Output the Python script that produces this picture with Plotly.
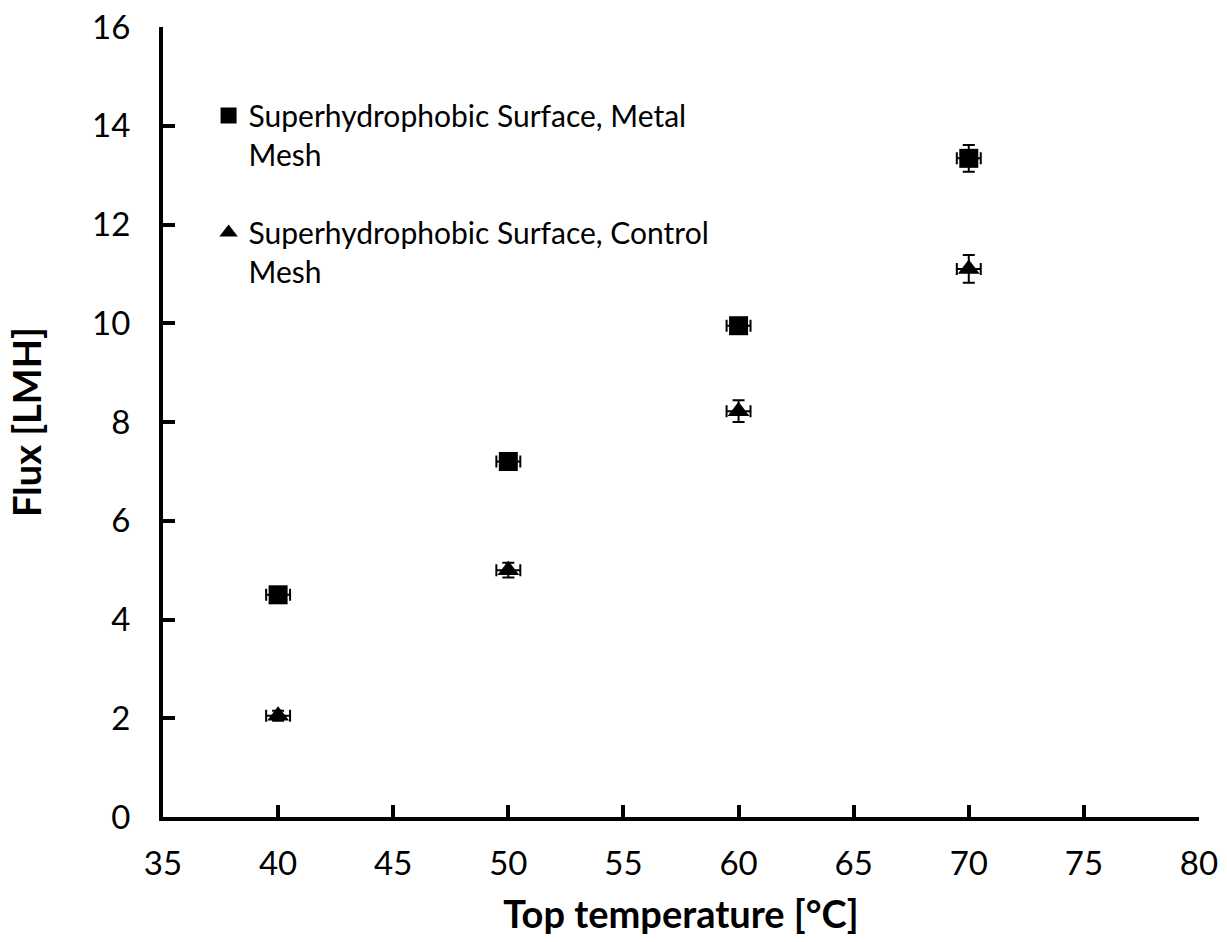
import plotly.graph_objects as go

temps = [40, 50, 60, 70]
metal_flux = [4.5, 7.2, 9.95, 13.34]
metal_yerr = [0.12, 0.12, 0.12, 0.27]
control_flux = [2.05, 5.0, 8.22, 11.1]
control_yerr = [0.1, 0.15, 0.22, 0.28]
temp_err = [0.52, 0.52, 0.52, 0.52]

FONT = "Lato"

fig = go.Figure()
fig.add_trace(go.Scatter(
    x=temps, y=metal_flux, mode="markers", legendgroup="a",
    name="Superhydrophobic Surface, Metal<br>Mesh",
    marker=dict(symbol="square", size=19, color="black"),
    error_y=dict(type="data", array=metal_yerr, color="black", thickness=2, width=6),
    error_x=dict(type="data", array=temp_err, color="black", thickness=2, width=6),
))
fig.add_trace(go.Scatter(
    x=temps, y=control_flux, mode="markers", legendgroup="b",
    name="Superhydrophobic Surface, Control<br>Mesh",
    marker=dict(symbol="triangle-up", size=19, color="black"),
    error_y=dict(type="data", array=control_yerr, color="black", thickness=2, width=6),
    error_x=dict(type="data", array=temp_err, color="black", thickness=2, width=6),
))

fig.update_layout(
    width=1227, height=942,
    margin=dict(l=163, r=28, t=27, b=125),
    paper_bgcolor="white", plot_bgcolor="white",
    font=dict(family=FONT, size=33, color="black"),
    legend=dict(x=0.044, y=0.921, xanchor="left", yanchor="top", valign="top",
                bgcolor="rgba(0,0,0,0)", font=dict(size=30), tracegroupgap=36,
                itemsizing="trace"),
    xaxis=dict(range=[35, 80], dtick=5, tick0=35, showgrid=False, zeroline=False,
               showline=True, linecolor="black", linewidth=4, automargin=False,
               ticks="inside", ticklen=12, tickwidth=4, tickcolor="black",
               ticklabelstandoff=14,
               title=dict(text="<b>Top temperature [°C]</b>", font=dict(size=38), standoff=22)),
    yaxis=dict(range=[0, 16], dtick=2, showgrid=False, zeroline=False,
               showline=True, linecolor="black", linewidth=4, automargin=False,
               ticks="inside", ticklen=12, tickwidth=4, tickcolor="black",
               ticklabelstandoff=22,
               title=dict(text="<b>Flux [LMH]</b>", font=dict(size=38), standoff=40)),
)

fig.write_html("out.html")
